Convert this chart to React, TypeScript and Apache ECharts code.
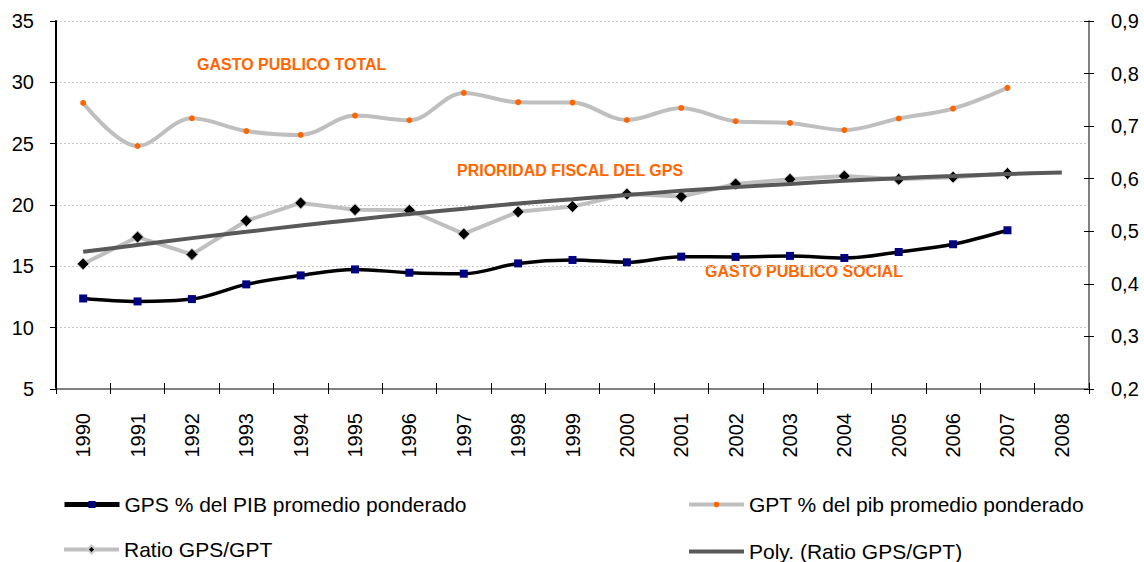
import React, { useEffect, useRef } from "react";
import * as echarts from "echarts";

const years = ["1990","1991","1992","1993","1994","1995","1996","1997","1998","1999","2000","2001","2002","2003","2004","2005","2006","2007","2008"];
const gps = [12.38, 12.14, 12.33, 13.53, 14.26, 14.75, 14.48, 14.40, 15.24, 15.52, 15.33, 15.79, 15.77, 15.85, 15.68, 16.17, 16.80, 17.94];
const gpt = [28.32, 24.81, 27.07, 26.03, 25.71, 27.29, 26.91, 29.14, 28.38, 28.35, 26.93, 27.91, 26.83, 26.69, 26.11, 27.05, 27.86, 29.55];
const ratio = [0.438, 0.489, 0.456, 0.520, 0.554, 0.541, 0.540, 0.495, 0.537, 0.547, 0.571, 0.566, 0.590, 0.599, 0.605, 0.599, 0.603, 0.610];
const poly = [0.461, 0.474, 0.487, 0.499, 0.511, 0.522, 0.533, 0.543, 0.553, 0.561, 0.569, 0.577, 0.584, 0.590, 0.596, 0.601, 0.605, 0.609, 0.612];

const seriesNames = [
  "GPS % del PIB promedio ponderado",
  "GPT % del pib promedio ponderado",
  "Ratio GPS/GPT",
  "Poly. (Ratio GPS/GPT)",
];
const annotations = ["GASTO PUBLICO TOTAL", "PRIORIDAD FISCAL DEL GPS", "GASTO PUBLICO SOCIAL"];

const FONT = "'Liberation Sans', Arial, sans-serif";

export default function App() {
  const ref = useRef<HTMLDivElement>(null);
  useEffect(() => {
    if (!ref.current) return;
    const chart = echarts.init(ref.current, null, { renderer: "svg" });
    const orange = "#FF6600";
    const annStyle = { fill: orange, font: `bold 16px ${FONT}`, textVerticalAlign: "middle" };
    const legendCfg = [
      { left: 62, top: 494, h: 9, w: 5 },
      { left: 687, top: 494, h: 7, w: 4 },
      { left: 62, top: 539, h: 10, w: 4 },
      { left: 687, top: 541, h: 4, w: 4 },
    ];
    const legends = seriesNames.map((n, i) => ({
      orient: "horizontal",
      left: legendCfg[i].left,
      top: legendCfg[i].top,
      padding: 0,
      itemWidth: 55,
      itemHeight: legendCfg[i].h,
      itemGap: 4,
      lineStyle: { width: legendCfg[i].w },
      textStyle: { fontSize: 21, color: "#000", fontFamily: FONT },
      data: [n],
    }));
    chart.setOption({
      animation: false,
      backgroundColor: "#ffffff",
      textStyle: { fontFamily: FONT },
      grid: { left: 56, right: 55, top: 21, height: 368, containLabel: false },
      legend: legends,
      xAxis: [
        {
          type: "category",
          data: years,
          boundaryGap: true,
          axisLine: { lineStyle: { color: "#808080", width: 2 } },
          axisTick: { show: true, length: 5, lineStyle: { color: "#000", width: 1 } },
          axisLabel: { rotate: 90, fontSize: 20, color: "#000", margin: 24, fontFamily: FONT },
          splitLine: { show: false },
        },
        {
          type: "category",
          data: years,
          boundaryGap: true,
          position: "bottom",
          axisLine: { show: false },
          axisTick: { show: true, inside: true, length: 6, lineStyle: { color: "#000", width: 1 } },
          axisLabel: { show: false },
          splitLine: { show: false },
        },
      ],
      yAxis: [
        {
          type: "value",
          min: 5,
          max: 35,
          interval: 5,
          position: "left",
          axisLine: { show: true, lineStyle: { color: "#000", width: 2 } },
          axisTick: { show: true, length: 6, lineStyle: { color: "#000" } },
          axisLabel: { fontSize: 20, color: "#000", margin: 22, fontFamily: FONT },
          splitLine: { show: true, lineStyle: { color: "#C8C8C8", type: [2, 2], width: 1 } },
        },
        {
          type: "value",
          min: 0.2,
          max: 0.9,
          interval: 0.1,
          position: "right",
          axisLine: { show: true, lineStyle: { color: "#808080", width: 2 } },
          axisTick: { show: true, length: 5, lineStyle: { color: "#000" } },
          axisLabel: {
            fontSize: 20,
            color: "#000",
            margin: 22,
            fontFamily: FONT,
            formatter: (v: number) => v.toFixed(1).replace(".", ","),
          },
          splitLine: { show: false },
        },
        {
          type: "value",
          min: 0.2,
          max: 0.9,
          interval: 0.1,
          position: "right",
          axisLine: { show: false },
          axisTick: { show: true, inside: true, length: 5, lineStyle: { color: "#000" } },
          axisLabel: { show: false },
          splitLine: { show: false },
        },
      ],
      series: [
        {
          name: seriesNames[0],
          type: "line",
          yAxisIndex: 0,
          data: gps,
          smooth: 0.35,
          lineStyle: { color: "#000000", width: 3.5 },
          itemStyle: { color: "#000080", borderWidth: 0 },
          symbol: "rect",
          symbolSize: 8,
          z: 2,
        },
        {
          name: seriesNames[1],
          type: "line",
          yAxisIndex: 0,
          data: gpt,
          smooth: 0.35,
          lineStyle: { color: "#BFBFBF", width: 4 },
          itemStyle: { color: orange, borderWidth: 0 },
          symbol: "circle",
          symbolSize: 6,
          z: 3,
        },
        {
          name: seriesNames[2],
          type: "line",
          yAxisIndex: 1,
          data: ratio,
          smooth: false,
          lineStyle: { color: "#BFBFBF", width: 4 },
          itemStyle: { color: "#000000", borderColor: "#C8C8C8", borderWidth: 1 },
          symbol: "diamond",
          symbolSize: 12,
          z: 4,
        },
        {
          name: seriesNames[3],
          type: "line",
          yAxisIndex: 1,
          data: poly,
          smooth: 0.3,
          showSymbol: false,
          symbol: "circle",
          symbolSize: 0,
          lineStyle: { color: "#595959", width: 4 },
          itemStyle: { color: "#595959" },
          z: 5,
        },
      ],
      graphic: [
        { type: "text", x: 197, y: 64, style: { ...annStyle, text: annotations[0] } },
        { type: "text", x: 457, y: 170, style: { ...annStyle, text: annotations[1] } },
        { type: "text", x: 705, y: 271, style: { ...annStyle, text: annotations[2] } },
      ],
    });
    return () => chart.dispose();
  }, []);
  return (
    <div
      ref={ref}
      style={{ position: "fixed", left: 0, top: 0, width: 1144, height: 562, background: "#fff" }}
    />
  );
}
